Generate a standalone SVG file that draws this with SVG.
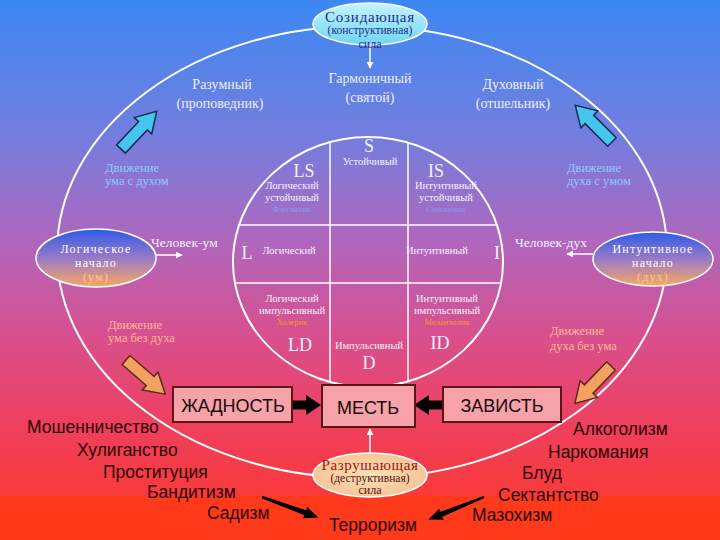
<svg xmlns="http://www.w3.org/2000/svg" width="720" height="540" viewBox="0 0 720 540">
<defs>
<linearGradient id="bg" x1="0" y1="0" x2="0" y2="1">
<stop offset="0" stop-color="#3c88f2"/>
<stop offset="0.25" stop-color="#737ede"/>
<stop offset="0.45" stop-color="#b066bc"/>
<stop offset="0.62" stop-color="#d8508e"/>
<stop offset="0.78" stop-color="#ee4060"/>
<stop offset="0.91" stop-color="#f83a3c"/>
<stop offset="1" stop-color="#fa3a30"/>
</linearGradient>
<linearGradient id="topEll" x1="0" y1="0" x2="0" y2="1">
<stop offset="0" stop-color="#c4f4ff"/>
<stop offset="1" stop-color="#70d4f4"/>
</linearGradient>
<linearGradient id="sideEll" x1="0" y1="0" x2="0" y2="1">
<stop offset="0" stop-color="#2c5ae8"/>
<stop offset="0.5" stop-color="#9a7ac8"/>
<stop offset="1" stop-color="#f8a860"/>
</linearGradient>
<radialGradient id="botEll" cx="0.5" cy="0.5" r="0.6">
<stop offset="0" stop-color="#fbe0b8"/>
<stop offset="1" stop-color="#f4c090"/>
</radialGradient>
<clipPath id="innerClip"><ellipse cx="368" cy="262" rx="135" ry="125"/></clipPath>
<marker id="wh" viewBox="0 0 10 10" refX="9" refY="5" markerWidth="7" markerHeight="7" orient="auto" markerUnits="userSpaceOnUse">
<path d="M0,0 L10,5 L0,10 z" fill="#ffffff"/>
</marker>
<path id="blockArrow" d="M0,-6 L32,-6 L32,-12 L52,0 L32,12 L32,6 L0,6 z"/>
<path id="fatArrow" d="M0,-4.5 L13,-4.5 L13,-10 L28,0 L13,10 L13,4.5 L0,4.5 z"/>
<path id="thinArrow" d="M0,-1.2 L46,-2.6 L46,-6 L60,0 L46,6 L46,2.6 L0,1.2 z"/>
</defs>
<style>
.serif{font-family:"Liberation Serif","DejaVu Serif",serif;}
.sans{font-family:"Liberation Sans","DejaVu Sans",sans-serif;}
.lbl{font-size:14px;fill:#eeeefc;text-anchor:middle;}
.cell{font-size:10.5px;fill:#f4f0ff;text-anchor:middle;}
.big{font-size:18px;fill:#f4f0ff;text-anchor:middle;}
.blue{font-size:8.5px;fill:#7c9cf0;text-anchor:middle;}
.orng{font-size:8.5px;fill:#ff9424;text-anchor:middle;}
.mvB{font-size:12.5px;fill:#8ecaff;}
.mvO{font-size:12.5px;fill:#ffb894;}
.side{font-size:12px;fill:#ffffff;text-anchor:middle;letter-spacing:1.2px;}
.list{font-size:17.5px;fill:#2a0606;}
.box{fill:#f5a2a8;stroke:#5a1616;stroke-width:2;}
.boxt{font-size:18px;fill:#1a0a0a;text-anchor:middle;}
.cyan{fill:#44c6ee;stroke:#1a2a5a;stroke-width:1.5;}
.orA{fill:#f4a060;stroke:#5a2a1a;stroke-width:1.5;}
.wline{stroke:#ffffff;stroke-width:1.5;fill:none;}
</style>

<rect x="0" y="0" width="720" height="540" fill="url(#bg)"/>
<rect x="0" y="496" width="720" height="44" fill="#ff3a1a"/>

<g id="frame">
<ellipse cx="362" cy="252" rx="305" ry="226" fill="none" stroke="#ffffff" stroke-width="2"/>
<ellipse cx="368" cy="262" rx="135" ry="125" fill="none" stroke="#ffffff" stroke-width="2"/>
<g clip-path="url(#innerClip)" stroke="#ffffff" stroke-width="1.5">
<line x1="330" y1="130" x2="330" y2="395"/>
<line x1="408" y1="130" x2="408" y2="395"/>
<line x1="225" y1="225" x2="510" y2="225"/>
<line x1="225" y1="283" x2="510" y2="283"/>
</g>
</g>

<g id="connectors">
<line x1="370" y1="46" x2="370" y2="68" class="wline" marker-end="url(#wh)"/>
<line x1="156" y1="255" x2="182" y2="255" class="wline" marker-end="url(#wh)"/>
<line x1="593" y1="254" x2="567" y2="254" class="wline" marker-end="url(#wh)"/>
<line x1="370" y1="455" x2="370" y2="429" class="wline" marker-end="url(#wh)"/>
<use href="#blockArrow" class="cyan" transform="translate(121,149) rotate(-46.6)"/>
<use href="#blockArrow" class="cyan" transform="translate(612,142) rotate(-135)"/>
<use href="#blockArrow" class="orA" transform="translate(126,360) rotate(41)"/>
<use href="#blockArrow" class="orA" transform="translate(611,366) rotate(134)"/>
<use href="#fatArrow" fill="#000000" transform="translate(293,405)"/>
<use href="#fatArrow" fill="#000000" transform="translate(442,405) rotate(180)"/>
<use href="#thinArrow" fill="#000000" transform="translate(262,497) rotate(20)"/>
<use href="#thinArrow" fill="#000000" transform="translate(484,497) rotate(158)"/>
</g>

<g id="creative">
<ellipse cx="370" cy="24" rx="57" ry="21" fill="url(#topEll)" stroke="#ffffff" stroke-width="1.5"/>
<text x="370" y="22" class="serif" font-size="15" letter-spacing="0.8" fill="#1e2c8c" text-anchor="middle">Созидающая</text>
<text x="370" y="34" class="serif" font-size="11.5" fill="#1e2c8c" text-anchor="middle">(конструктивная)</text>
<text x="370" y="48" class="serif" font-size="12" fill="#1e2c8c" text-anchor="middle">сила</text>
</g>

<g id="harmonic">
<text x="370" y="83" class="serif lbl">Гармоничный</text>
<text x="370" y="102" class="serif lbl">(святой)</text>
</g>
<g id="rational">
<text x="222" y="89" class="serif lbl">Разумный</text>
<text x="220" y="108" class="serif lbl">(проповедник)</text>
</g>
<g id="spiritual">
<text x="513" y="89" class="serif lbl">Духовный</text>
<text x="513" y="108" class="serif lbl">(отшельник)</text>
</g>

<g id="move-mind-spirit">
<text x="105" y="172" class="serif mvB">Движение</text>
<text x="105" y="185" class="serif mvB">ума с духом</text>
</g>
<g id="move-spirit-mind">
<text x="567" y="172" class="serif mvB">Движение</text>
<text x="567" y="185" class="serif mvB">духа с умом</text>
</g>
<g id="move-mind-nospirit">
<text x="108" y="329" class="serif mvO">Движение</text>
<text x="108" y="342" class="serif mvO">ума без духа</text>
</g>
<g id="move-spirit-nomind">
<text x="550" y="335" class="serif mvO">Движение</text>
<text x="550" y="350" class="serif mvO">духа без ума</text>
</g>

<g id="logical">
<ellipse cx="96" cy="258" rx="60" ry="29" fill="url(#sideEll)" stroke="#ffffff" stroke-width="1.5"/>
<text x="96" y="253" class="serif side">Логическое</text>
<text x="96" y="267" class="serif side">начало</text>
<text x="96" y="281" class="serif side" style="fill:#ffc880">(ум)</text>
<text x="151" y="247" class="serif" font-size="13.5" fill="#f4f0ff">Человек-ум</text>
</g>
<g id="intuitive">
<ellipse cx="653" cy="259" rx="60" ry="27" fill="url(#sideEll)" stroke="#ffffff" stroke-width="1.5"/>
<text x="653" y="253" class="serif side">Интуитивное</text>
<text x="653" y="267" class="serif side">начало</text>
<text x="653" y="281" class="serif side" style="fill:#ffc880">(дух)</text>
<text x="515" y="247" class="serif" font-size="13.5" fill="#f4f0ff">Человек-дух</text>
</g>

<g id="cell-S">
<text x="369" y="152" class="serif big">S</text>
<text x="370" y="165" class="serif cell" font-size="10">Устойчивый</text>
</g>
<g id="cell-LS">
<text x="304" y="177" class="serif big">LS</text>
<text x="292" y="189" class="serif cell">Логический</text>
<text x="292" y="200.5" class="serif cell">устойчивый</text>
<text x="292" y="212" class="serif blue">Флегматик</text>
</g>
<g id="cell-IS">
<text x="436" y="177" class="serif big">IS</text>
<text x="446" y="189" class="serif cell">Интуитивный</text>
<text x="446" y="200.5" class="serif cell">устойчивый</text>
<text x="446" y="212" class="serif blue">Сангвиник</text>
</g>
<g id="cell-L">
<text x="247" y="259" class="serif big">L</text>
<text x="289" y="254" class="serif cell">Логический</text>
</g>
<g id="cell-I">
<text x="437" y="254" class="serif cell">Интуитивный</text>
<text x="497" y="259" class="serif big">I</text>
</g>
<g id="cell-LD">
<text x="292" y="302" class="serif cell">Логический</text>
<text x="292" y="313.5" class="serif cell">импульсивный</text>
<text x="292" y="325" class="serif orng">Холерик</text>
<text x="300" y="351" class="serif big">LD</text>
</g>
<g id="cell-ID">
<text x="447" y="302" class="serif cell">Интуитивный</text>
<text x="447" y="313.5" class="serif cell">импульсивный</text>
<text x="447" y="325" class="serif orng">Меланхолик</text>
<text x="440" y="349" class="serif big">ID</text>
</g>
<g id="cell-D">
<text x="369" y="349" class="serif cell">Импульсивный</text>
<text x="369" y="369" class="serif big">D</text>
</g>

<g id="greed">
<rect x="173" y="387" width="119" height="35" class="box"/>
<text x="233" y="412" class="sans boxt">ЖАДНОСТЬ</text>
</g>
<g id="revenge">
<rect x="322" y="385" width="93" height="42" class="box"/>
<text x="368" y="414" class="sans boxt">МЕСТЬ</text>
</g>
<g id="envy">
<rect x="443" y="387" width="118" height="35" class="box"/>
<text x="502" y="412" class="sans boxt">ЗАВИСТЬ</text>
</g>

<g id="destructive">
<ellipse cx="370" cy="475" rx="57" ry="22" fill="url(#botEll)" stroke="#ffffff" stroke-width="1.5"/>
<text x="370" y="470" class="serif" font-size="15" letter-spacing="0.6" fill="#a01414" text-anchor="middle">Разрушающая</text>
<text x="370" y="482" class="serif" font-size="11.5" fill="#5a1010" text-anchor="middle">(деструктивная)</text>
<text x="370" y="494" class="serif" font-size="12" fill="#5a1010" text-anchor="middle">сила</text>
</g>

<g id="list-left">
<text x="27" y="433" class="sans list">Мошенничество</text>
<text x="77" y="456" class="sans list">Хулиганство</text>
<text x="103" y="478" class="sans list">Проституция</text>
<text x="147" y="498" class="sans list">Бандитизм</text>
<text x="207" y="519" class="sans list">Садизм</text>
</g>
<g id="list-right">
<text x="573" y="435" class="sans list">Алкоголизм</text>
<text x="548" y="458" class="sans list">Наркомания</text>
<text x="522" y="479" class="sans list">Блуд</text>
<text x="498" y="501" class="sans list">Сектантство</text>
<text x="472" y="521" class="sans list">Мазохизм</text>
</g>
<g id="terror">
<text x="373" y="531" class="sans list" text-anchor="middle">Терроризм</text>
</g>
</svg>
